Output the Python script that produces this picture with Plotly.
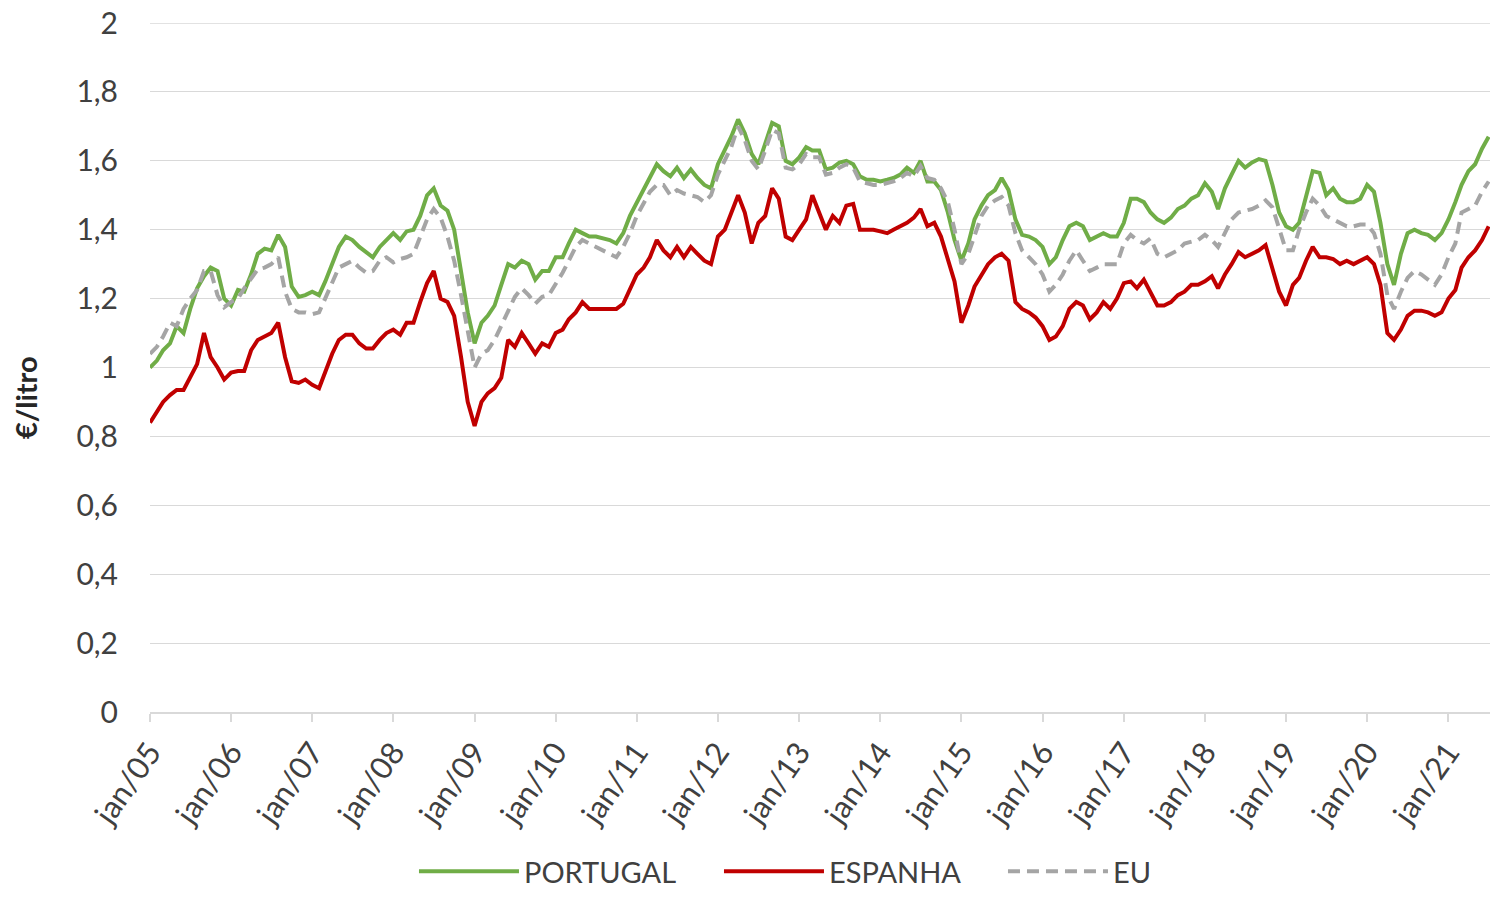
import plotly.graph_objects as go
import pandas as pd

months = pd.date_range("2005-01-01", "2021-07-01", freq="MS")

portugal = [
    1.00, 1.02, 1.05, 1.07, 1.12, 1.10, 1.17, 1.23, 1.265, 1.29, 1.28, 1.20,
    1.18, 1.225, 1.22, 1.27, 1.33, 1.345, 1.34, 1.385, 1.35, 1.235, 1.205, 1.21,
    1.22, 1.21, 1.25, 1.30, 1.35, 1.38, 1.37, 1.35, 1.335, 1.32, 1.35, 1.37,
    1.39, 1.37, 1.395, 1.40, 1.44, 1.50, 1.52, 1.47, 1.455, 1.40, 1.28, 1.16,
    1.07, 1.13, 1.15, 1.18, 1.24, 1.30, 1.29, 1.31, 1.30, 1.255, 1.28, 1.28,
    1.32, 1.32, 1.36, 1.40, 1.39, 1.38, 1.38, 1.375, 1.37, 1.36, 1.39, 1.44,
    1.48, 1.52, 1.55, 1.59, 1.57, 1.555, 1.58, 1.55, 1.575, 1.55, 1.53, 1.52,
    1.59, 1.63, 1.67, 1.72, 1.68, 1.62, 1.59, 1.65, 1.71, 1.70, 1.60, 1.59,
    1.61, 1.64, 1.63, 1.63, 1.575, 1.58, 1.595, 1.60, 1.59, 1.555, 1.545, 1.545,
    1.54, 1.545, 1.55, 1.56, 1.58, 1.565, 1.60, 1.54, 1.54, 1.515, 1.45, 1.37,
    1.31, 1.36, 1.43, 1.47, 1.50, 1.515, 1.55, 1.515, 1.43, 1.385, 1.38, 1.37,
    1.35, 1.30, 1.32, 1.37, 1.41, 1.42, 1.41, 1.37, 1.38, 1.39, 1.38, 1.38,
    1.42, 1.49, 1.49, 1.48, 1.45, 1.43, 1.42, 1.435, 1.46, 1.47, 1.49, 1.50,
    1.535, 1.51, 1.46, 1.52, 1.56, 1.60, 1.58, 1.595, 1.605, 1.60, 1.53, 1.45,
    1.41, 1.40, 1.42, 1.50, 1.57, 1.565, 1.50, 1.52, 1.49, 1.48, 1.48, 1.49,
    1.53, 1.51, 1.42, 1.30, 1.24, 1.33, 1.39, 1.40, 1.39, 1.385, 1.37, 1.39,
    1.43, 1.48, 1.53, 1.57, 1.59, 1.635, 1.67,
]

espanha = [
    0.84, 0.87, 0.90, 0.92, 0.935, 0.935, 0.975, 1.01, 1.10, 1.03, 1.00, 0.965,
    0.985, 0.99, 0.99, 1.05, 1.08, 1.09, 1.10, 1.13, 1.03, 0.96, 0.955, 0.965,
    0.95, 0.94, 0.99, 1.04, 1.08, 1.095, 1.095, 1.07, 1.055, 1.055, 1.08, 1.10,
    1.11, 1.095, 1.13, 1.13, 1.19, 1.245, 1.28, 1.20, 1.19, 1.15, 1.03, 0.90,
    0.83, 0.90, 0.925, 0.94, 0.97, 1.08, 1.06, 1.10, 1.07, 1.04, 1.07, 1.06,
    1.10, 1.11, 1.14, 1.16, 1.19, 1.17, 1.17, 1.17, 1.17, 1.17, 1.185, 1.23,
    1.27, 1.29, 1.32, 1.37, 1.34, 1.32, 1.35, 1.32, 1.35, 1.33, 1.31, 1.30,
    1.38, 1.40, 1.45, 1.50, 1.45, 1.36, 1.42, 1.44, 1.52, 1.49, 1.38, 1.37,
    1.40, 1.43, 1.50, 1.45, 1.40, 1.44, 1.42, 1.47, 1.475, 1.40, 1.40, 1.40,
    1.395, 1.39, 1.40, 1.41, 1.42, 1.435, 1.46, 1.41, 1.42, 1.38, 1.31, 1.25,
    1.13, 1.18, 1.235, 1.27, 1.30, 1.32, 1.33, 1.31, 1.19, 1.17, 1.16, 1.145,
    1.12, 1.08, 1.09, 1.12, 1.17, 1.19, 1.18, 1.14, 1.16, 1.19, 1.17, 1.20,
    1.245, 1.25, 1.23, 1.255, 1.22, 1.18, 1.18, 1.19, 1.21, 1.22, 1.24, 1.24,
    1.25, 1.265, 1.23, 1.27, 1.30, 1.335, 1.32, 1.33, 1.34, 1.355, 1.29, 1.22,
    1.18, 1.24, 1.26, 1.31, 1.35, 1.32, 1.32, 1.315, 1.30, 1.31, 1.30, 1.31,
    1.32, 1.30, 1.24, 1.10, 1.08, 1.11, 1.15, 1.165, 1.165, 1.16, 1.15, 1.16,
    1.20, 1.225, 1.29, 1.32, 1.34, 1.37, 1.41,
]

eu = [
    1.04, 1.06, 1.09, 1.13, 1.12, 1.17, 1.20, 1.225, 1.28, 1.28, 1.21, 1.175,
    1.19, 1.20, 1.23, 1.26, 1.285, 1.29, 1.30, 1.32, 1.22, 1.17, 1.16, 1.16,
    1.155, 1.16, 1.20, 1.25, 1.29, 1.30, 1.31, 1.29, 1.275, 1.28, 1.31, 1.32,
    1.305, 1.315, 1.32, 1.33, 1.38, 1.43, 1.46, 1.435, 1.38, 1.31, 1.21, 1.10,
    1.00, 1.04, 1.05, 1.08, 1.12, 1.16, 1.205, 1.23, 1.21, 1.185, 1.205, 1.21,
    1.24, 1.275, 1.31, 1.35, 1.37, 1.36, 1.35, 1.34, 1.33, 1.32, 1.35, 1.39,
    1.44, 1.475, 1.51, 1.53, 1.53, 1.50, 1.515, 1.505, 1.50, 1.495, 1.48, 1.50,
    1.56, 1.60, 1.64, 1.70, 1.66, 1.60, 1.575, 1.63, 1.69, 1.68, 1.58, 1.575,
    1.59, 1.62, 1.61, 1.61, 1.56, 1.565, 1.58, 1.59, 1.58, 1.54, 1.535, 1.53,
    1.53, 1.535, 1.54, 1.55, 1.565, 1.555, 1.585, 1.55, 1.545, 1.52, 1.48, 1.40,
    1.30, 1.33, 1.38, 1.44, 1.47, 1.485, 1.495, 1.47, 1.39, 1.34, 1.32, 1.30,
    1.27, 1.22, 1.24, 1.27, 1.31, 1.34, 1.31, 1.28, 1.29, 1.30, 1.30, 1.30,
    1.36, 1.385, 1.37, 1.36, 1.375, 1.33, 1.32, 1.33, 1.34, 1.36, 1.365, 1.37,
    1.385, 1.37, 1.35, 1.39, 1.43, 1.45, 1.455, 1.46, 1.47, 1.485, 1.465, 1.40,
    1.34, 1.34, 1.40, 1.45, 1.49, 1.47, 1.44, 1.43, 1.42, 1.41, 1.41, 1.415,
    1.415, 1.39, 1.33, 1.21, 1.17, 1.22, 1.26, 1.28, 1.27, 1.255, 1.24, 1.27,
    1.32, 1.36, 1.45, 1.46, 1.47, 1.51, 1.54,
]

series_names = ["PORTUGAL", "ESPANHA", "EU"]
y_ticks = [0, 0.2, 0.4, 0.6, 0.8, 1.0, 1.2, 1.4, 1.6, 1.8, 2.0]
y_ticktext = ["0", "0,2", "0,4", "0,6", "0,8", "1", "1,2", "1,4", "1,6", "1,8", "2"]
x_years = list(range(2005, 2022))
x_ticktext = ["jan/%02d" % (y % 100) for y in x_years]
x_tickvals = ["%d-01-01" % y for y in x_years]

FONT = "Lato, 'Liberation Sans', sans-serif"
TXT = "#404040"
GRID = "#d9d9d9"

fig = go.Figure()
fig.add_trace(go.Scatter(x=months, y=portugal, name=series_names[0], mode="lines",
                         line=dict(color="#70AD47", width=4), legendwidth=190))
fig.add_trace(go.Scatter(x=months, y=espanha, name=series_names[1], mode="lines",
                         line=dict(color="#C00000", width=4), legendwidth=169))
fig.add_trace(go.Scatter(x=months, y=eu, name=series_names[2], mode="lines",
                         line=dict(color="#A5A5A5", width=4, dash="12px,7px")))

fig.update_layout(
    width=1490, height=897,
    margin=dict(l=150, r=0, t=23, b=185),
    paper_bgcolor="white", plot_bgcolor="white",
    font=dict(family=FONT, size=28, color=TXT),
    showlegend=True,
    legend=dict(orientation="h", x=0.197, xanchor="left",
                yref="container", y=-0.006, yanchor="bottom",
                font=dict(size=29, color=TXT), itemwidth=100,
                traceorder="normal", borderwidth=0),
)
fig.update_xaxes(
    type="date", automargin=False,
    range=["2005-01-01", "2021-07-07"],
    tickvals=x_tickvals, ticktext=x_ticktext, tickangle=-55,
    showgrid=False, zeroline=False,
    showline=True, linecolor=GRID, linewidth=1.5,
    ticks="outside", ticklen=8, tickcolor=GRID, tickwidth=1.5,
    tickfont=dict(size=31, color=TXT, family=FONT),
)
fig.update_yaxes(
    range=[0, 2], tickvals=y_ticks, ticktext=y_ticktext, automargin=False,
    showgrid=True, gridcolor=GRID, gridwidth=1.3,
    zeroline=False, showline=False, ticks="",
    tickfont=dict(size=30, color=TXT, family=FONT),
    ticklabelstandoff=31,
)
# top gridline at y = 2 (plotly drops grid lines lying on the plot edge)
fig.add_shape(type="line", xref="paper", yref="y", x0=0, x1=1, y0=2, y1=2,
              line=dict(color=GRID, width=1.3), layer="below")
fig.add_annotation(text="<b>€/litro</b>", xref="paper", yref="paper",
                   x=-0.0933, y=0.457, xanchor="center", yanchor="middle",
                   textangle=-90, showarrow=False,
                   font=dict(size=29, color="#262626", family=FONT))

# remove the default 8px page margin so the figure fills the window exactly
fig.write_html("out.html",
               config={"displayModeBar": False},
               post_script="document.body.style.margin='0px';"
                           "document.body.style.overflow='hidden';")
